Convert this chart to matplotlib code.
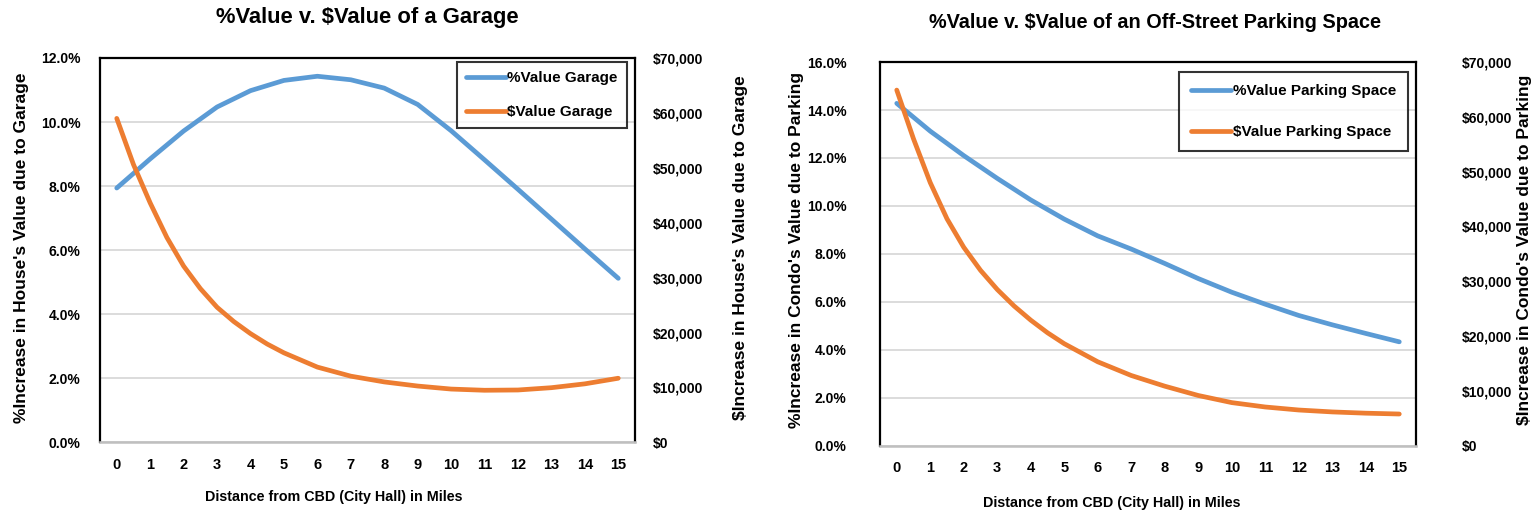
import matplotlib
matplotlib.use("Agg")
import matplotlib.pyplot as plt
from matplotlib.ticker import FuncFormatter

# Arial-like bold text
plt.rcParams['font.family'] = ['Liberation Sans', 'DejaVu Sans']
plt.rcParams['font.weight'] = 'bold'

BLUE = '#5B9BD5'
ORANGE = '#ED7D31'
GRID = '#D9D9D9'

miles = list(range(16))

# garage chart
garage_pct = [7.94, 8.85, 9.72, 10.47, 10.98, 11.30, 11.43, 11.32, 11.06, 10.55,
              9.73, 8.82, 7.90, 6.97, 6.04, 5.12]
garage_usd_x = [0, 0.5, 1, 1.5, 2, 2.5, 3, 3.5, 4, 4.5, 5, 6, 7, 8, 9, 10, 11, 12, 13, 14, 15]
garage_usd = [59000, 50600, 43600, 37300, 32100, 28000, 24600, 22000, 19800, 17900,
              16300, 13700, 12050, 11000, 10250, 9700, 9480, 9530, 9950, 10650, 11670]

# parking space chart
parking_pct = [14.28, 13.12, 12.10, 11.15, 10.25, 9.45, 8.75, 8.20, 7.60, 6.97,
               6.40, 5.90, 5.43, 5.04, 4.68, 4.33]
parking_usd_x = [0, 0.5, 1, 1.5, 2, 2.5, 3, 3.5, 4, 4.5, 5, 6, 7, 8, 9, 10, 11, 12, 13, 14, 15]
parking_usd = [64900, 56000, 48000, 41400, 36200, 32000, 28500, 25500, 22900, 20600,
               18600, 15300, 12800, 10850, 9150, 7850, 7050, 6500, 6150, 5920, 5770]

fig = plt.figure(figsize=(15.39, 5.16), dpi=100)


def make_chart(rect, pct, usd_x, usd, pct_max, names, pad_left, pad_right, leg_opts):
    ax = fig.add_axes(rect)
    ax2 = ax.twinx()
    l1, = ax.plot(miles, [p / 100 for p in pct], color=BLUE, lw=3.4,
                  solid_capstyle='round', solid_joinstyle='round', label=names[0])
    l2, = ax2.plot(usd_x, usd, color=ORANGE, lw=3.4,
                   solid_capstyle='round', solid_joinstyle='round', label=names[1])
    ax.set_xlim(-0.5, 15.5)
    ax.set_ylim(0, pct_max)
    ax.set_yticks([i * 0.02 for i in range(int(round(pct_max / 0.02)) + 1)])
    ax.yaxis.set_major_formatter(FuncFormatter(lambda v, p: f"{v * 100:.1f}%"))
    ax2.set_ylim(0, 70000)
    ax2.set_yticks(range(0, 70001, 10000))
    ax2.yaxis.set_major_formatter(FuncFormatter(lambda v, p: f"${v:,.0f}"))
    ax.set_xticks(miles)
    ax.grid(axis='y', color=GRID, lw=1.3)
    ax.set_axisbelow(True)
    ax.tick_params(axis='y', length=0, pad=pad_left, labelsize=10)
    ax.tick_params(axis='x', length=0, pad=11, labelsize=10.5)
    ax2.tick_params(axis='y', length=0, pad=pad_right, labelsize=10)
    for s in ['left', 'top', 'right']:
        ax.spines[s].set_color('black')
        ax.spines[s].set_linewidth(1.6)
    ax.spines['bottom'].set_color('#BFBFBF')
    ax.spines['bottom'].set_linewidth(1.8)
    for s in ax2.spines.values():
        s.set_visible(False)
    leg = ax2.legend(handles=[l1, l2], loc='upper right', fontsize=11,
                     frameon=True, fancybox=False, edgecolor='black',
                     handlelength=2.6, handletextpad=0.1, borderaxespad=0,
                     **leg_opts)
    leg.get_frame().set_linewidth(1.5)
    return ax, ax2


# left chart: garage
make_chart([0.065, 0.1428, 0.3476, 0.7448], garage_pct, garage_usd_x, garage_usd, 0.12,
           ['%Value Garage', '$Value Garage'], 14, 13,
           dict(labelspacing=1.3, borderpad=0.6, bbox_to_anchor=(0.985, 0.99)))
fig.text(367 / 1539, 1 - 18 / 516, '%Value v. $Value of a Garage',
         ha='center', va='center', fontsize=15.8)
fig.text(22 / 1539, 1 - 248 / 516, "%Increase in House's Value due to Garage",
         rotation=90, ha='center', va='center', fontsize=12.5)
fig.text(741 / 1539, 1 - 248 / 516, "$Increase in House's Value due to Garage",
         rotation=90, ha='center', va='center', fontsize=12.5)
fig.text(334 / 1539, 1 - 497 / 516, 'Distance from CBD (City Hall) in Miles',
         ha='center', va='center', fontsize=10.3)

# right chart: off-street parking space
make_chart([0.5718, 0.1364, 0.3483, 0.7432], parking_pct, parking_usd_x, parking_usd, 0.16,
           ['%Value Parking Space', '$Value Parking Space'], 24, 33,
           dict(labelspacing=1.75, borderpad=0.8, bbox_to_anchor=(0.985, 0.974)))
fig.text(1155 / 1539, 1 - 22 / 516, '%Value v. $Value of an Off-Street Parking Space',
         ha='center', va='center', fontsize=14.3)
fig.text(797 / 1539, 1 - 250 / 516, "%Increase in Condo's Value due to Parking",
         rotation=90, ha='center', va='center', fontsize=12.5)
fig.text(1524 / 1539, 1 - 250 / 516, "$Increase in Condo's Value due to Parking",
         rotation=90, ha='center', va='center', fontsize=12.5)
fig.text(1112 / 1539, 1 - 503 / 516, 'Distance from CBD (City Hall) in Miles',
         ha='center', va='center', fontsize=10.3)

fig.savefig('out.png', dpi=100)
